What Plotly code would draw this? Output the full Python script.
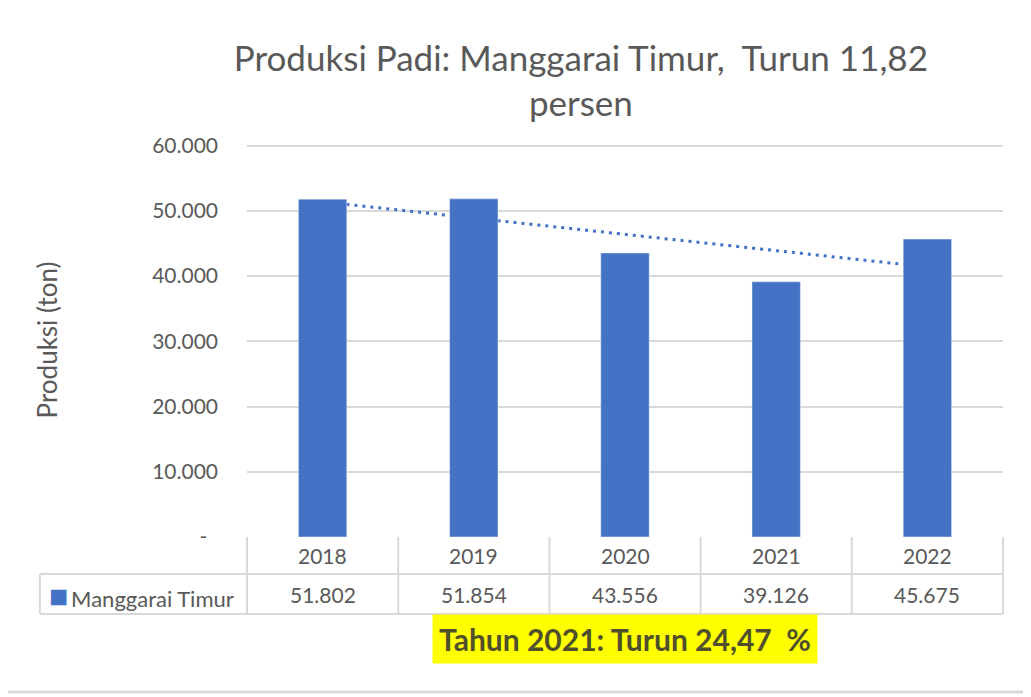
import numpy as np
import plotly.graph_objects as go

years = ["2018", "2019", "2020", "2021", "2022"]
produksi = [51802, 51854, 43556, 39126, 45675]
nilai_label = ["51.802", "51.854", "43.556", "39.126", "45.675"]
tick_vals = [0, 10000, 20000, 30000, 40000, 50000, 60000]
tick_text = ["-\u00a0\u00a0", "10.000", "20.000", "30.000", "40.000", "50.000", "60.000"]

FONT = "Lato"
BLUE = "#4472C4"
GRID = "#D9D9D9"
TXT = "#595959"

PLOT_H = 394  # plot area height in px, used for table placement below it


def py(px_below):
    # pixels below the x axis -> paper y
    return -px_below / PLOT_H


# trendline (linear fit like Excel)
xi = np.arange(len(produksi))
slope, icpt = np.polyfit(xi, produksi, 1)
trend = slope * xi + icpt

fig = go.Figure()
fig.add_trace(go.Bar(x=years, y=produksi, marker_color=BLUE, width=0.32,
                     name="Manggarai Timur"))

# category axis: shape x given as category index
fig.add_shape(type="line", xref="x", yref="y", x0=int(xi[0]), x1=int(xi[-1]),
              y0=trend[0], y1=trend[-1], layer="between",
              line=dict(color=BLUE, width=3, dash="3px,5px"))

# data table below the plot
leg_x = -0.274
row1 = py(37)
row2 = py(77)
n = len(years)
for i in range(n + 1):
    fig.add_shape(type="line", xref="paper", yref="paper", x0=i / n, x1=i / n,
                  y0=0, y1=row2, line=dict(color=GRID, width=2))
fig.add_shape(type="line", xref="paper", yref="paper", x0=leg_x, x1=leg_x,
              y0=row1, y1=row2, line=dict(color=GRID, width=2))
for yy in (row1, row2):
    fig.add_shape(type="line", xref="paper", yref="paper", x0=leg_x, x1=1,
                  y0=yy, y1=yy, line=dict(color=GRID, width=2))
# chart border line at bottom
fig.add_shape(type="line", xref="paper", yref="paper", x0=-0.34, x1=1.04,
              y0=py(155), y1=py(155), line=dict(color=GRID, width=3))

for i, (yr, lab) in enumerate(zip(years, nilai_label)):
    cx = (i + 0.5) / n
    fig.add_annotation(x=cx, y=row1 / 2, xref="paper", yref="paper", text=yr,
                       xanchor="center", yanchor="middle", showarrow=False,
                       font=dict(size=21, color=TXT, family=FONT))
    fig.add_annotation(x=cx, y=(row1 + row2) / 2, xref="paper", yref="paper", text=lab,
                       xanchor="center", yanchor="middle", showarrow=False,
                       font=dict(size=21, color=TXT, family=FONT))

fig.add_annotation(x=leg_x + 0.01, y=(row1 + row2) / 2, xref="paper", yref="paper",
                   xanchor="left", yanchor="middle", showarrow=False,
                   text=f"<span style='color:{BLUE};font-size:32px'>■</span>\u2009Manggarai Timur",
                   font=dict(size=22, color=TXT, family=FONT))

fig.add_annotation(x=0.5, y=py(102), xref="paper", yref="paper", showarrow=False,
                   xanchor="center", yanchor="middle",
                   text="<b>Tahun 2021: Turun 24,47\u00a0\u00a0%</b>",
                   bgcolor="#FFFF00", borderpad=6,
                   font=dict(size=30, color="#4F4F2C", family=FONT))

fig.update_layout(
    width=1023, height=689,
    margin=dict(l=239, r=28, t=135, b=689 - 135 - PLOT_H),
    paper_bgcolor="white", plot_bgcolor="white",
    showlegend=False,
    title=dict(text="Produksi Padi: Manggarai Timur,  Turun 11,82<br>persen",
               x=0.56, xanchor="center", y=0.909, yanchor="top",
               font=dict(size=35, color=TXT, family=FONT)),
    xaxis=dict(type="category", range=[-0.5, n - 0.5], showticklabels=False,
               showgrid=False, zeroline=False, showline=False, ticks=""),
    yaxis=dict(range=[0, 60414], tickvals=tick_vals, ticktext=tick_text,
               automargin=False,
               showgrid=True, gridcolor=GRID, gridwidth=2, zeroline=False,
               tickfont=dict(size=21, color=TXT, family=FONT), ticklabelstandoff=28,
               title=dict(text="Produksi (ton)", standoff=87,
                          font=dict(size=26, color=TXT, family=FONT))),
)

fig.write_html("out.html")
